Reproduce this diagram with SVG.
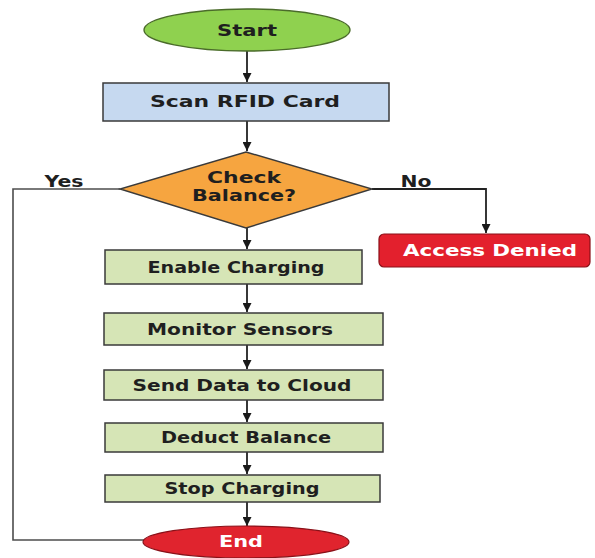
<svg xmlns="http://www.w3.org/2000/svg" width="595" height="558" viewBox="0 0 595 558">
  <style>
    .lbl { font-family: "DejaVu Sans", Verdana, sans-serif; font-weight: bold; font-size: 16px; fill: #1f1f1f; text-anchor: middle; dominant-baseline: central; }
    .light { fill: #ffffff; }
    .wire { fill: none; stroke: #222222; stroke-width: 1.8; }
    .loop { fill: none; stroke: #4d4d4d; stroke-width: 1.6; }
    .step { fill: #d6e5b6; stroke: #3a3a3a; stroke-width: 1.5; }
  </style>
  <defs>
    <marker id="arrow" viewBox="0 0 10 10" refX="10" refY="5" markerWidth="9" markerHeight="9" markerUnits="userSpaceOnUse" orient="auto">
      <path d="M0,0 L10,5 L0,10 Z" fill="#1a1a1a"/>
    </marker>
  </defs>

  <rect width="595" height="558" fill="#ffffff"/>

  <!-- connectors -->
  <g id="connectors">
    <line class="wire" x1="247" y1="51" x2="247" y2="82" marker-end="url(#arrow)"/>
    <line class="wire" x1="247" y1="121" x2="247" y2="151" marker-end="url(#arrow)"/>
    <line class="wire" x1="247" y1="228" x2="247" y2="249" marker-end="url(#arrow)"/>
    <line class="wire" x1="247" y1="284" x2="247" y2="312" marker-end="url(#arrow)"/>
    <line class="wire" x1="247" y1="345" x2="247" y2="369" marker-end="url(#arrow)"/>
    <line class="wire" x1="247" y1="400" x2="247" y2="422" marker-end="url(#arrow)"/>
    <line class="wire" x1="247" y1="452" x2="247" y2="474" marker-end="url(#arrow)"/>
    <line class="wire" x1="247" y1="502" x2="247" y2="526" marker-end="url(#arrow)"/>
    <!-- Yes branch -->
    <polyline class="loop" points="120,189 13,189 13,540 144,540"/>
    <text class="lbl" x="64" y="181" textLength="39" lengthAdjust="spacingAndGlyphs">Yes</text>
    <!-- No branch -->
    <polyline class="wire" points="372,189 486,189 486,233" marker-end="url(#arrow)"/>
    <text class="lbl" x="416" y="181" textLength="31" lengthAdjust="spacingAndGlyphs">No</text>
  </g>

  <g id="start">
    <ellipse cx="247" cy="30" rx="103" ry="21" fill="#8fd14f" stroke="#4a6b2a" stroke-width="1.4"/>
    <text class="lbl" x="247" y="30" textLength="60" lengthAdjust="spacingAndGlyphs">Start</text>
  </g>

  <g id="scan">
    <rect x="103" y="83" width="286" height="38" fill="#c6d9f0" stroke="#3a3a3a" stroke-width="1.5"/>
    <text class="lbl" x="245" y="101" textLength="190" lengthAdjust="spacingAndGlyphs">Scan RFID Card</text>
  </g>

  <g id="check">
    <polygon points="246,152 372,189 246,228 120,189" fill="#f6a540" stroke="#3a3a3a" stroke-width="1.4"/>
    <text class="lbl" x="244" y="177" textLength="74" lengthAdjust="spacingAndGlyphs">Check</text>
    <text class="lbl" x="244" y="195" textLength="104" lengthAdjust="spacingAndGlyphs">Balance?</text>
  </g>

  <g id="denied">
    <rect x="379" y="234" width="211" height="33" rx="5" fill="#e3202d" stroke="#8a1018" stroke-width="1.2"/>
    <text class="lbl light" x="490" y="250" textLength="174" lengthAdjust="spacingAndGlyphs">Access Denied</text>
  </g>

  <g id="enable">
    <rect class="step" x="105" y="250" width="257" height="34"/>
    <text class="lbl" x="236" y="267" textLength="177" lengthAdjust="spacingAndGlyphs">Enable Charging</text>
  </g>

  <g id="monitor">
    <rect class="step" x="104" y="313" width="279" height="32"/>
    <text class="lbl" x="240" y="329" textLength="186" lengthAdjust="spacingAndGlyphs">Monitor Sensors</text>
  </g>

  <g id="send">
    <rect class="step" x="104" y="370" width="279" height="30"/>
    <text class="lbl" x="242" y="385" textLength="219" lengthAdjust="spacingAndGlyphs">Send Data to Cloud</text>
  </g>

  <g id="deduct">
    <rect class="step" x="105" y="423" width="278" height="29"/>
    <text class="lbl" x="246" y="437" textLength="170" lengthAdjust="spacingAndGlyphs">Deduct Balance</text>
  </g>

  <g id="stop">
    <rect class="step" x="105" y="475" width="275" height="27"/>
    <text class="lbl" x="242" y="488" textLength="155" lengthAdjust="spacingAndGlyphs">Stop Charging</text>
  </g>

  <g id="end">
    <ellipse cx="246" cy="542" rx="103" ry="16" fill="#e0242e" stroke="#8a1018" stroke-width="1.2"/>
    <text class="lbl light" x="241" y="541" textLength="44" lengthAdjust="spacingAndGlyphs">End</text>
  </g>
</svg>
